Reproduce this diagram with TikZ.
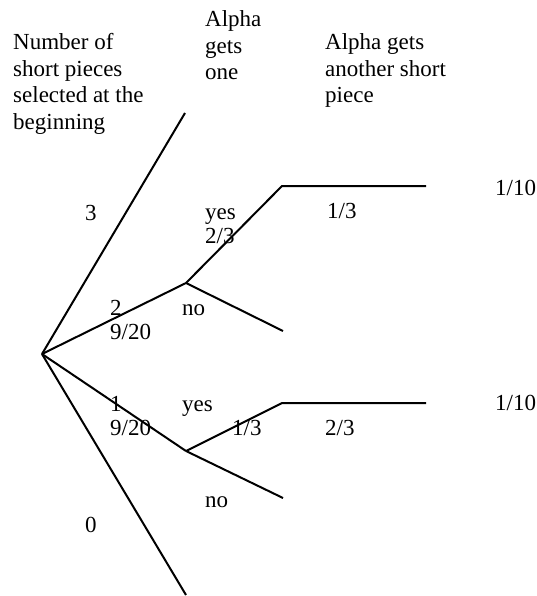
\documentclass[tikz,border=0pt]{standalone}
\usepackage{fontspec}
\setmainfont{Liberation Serif}
\begin{document}
\begin{tikzpicture}[x=1pt,y=-1pt,
  branch/.style={line width=2pt},
  lbl/.style={anchor=base west, inner sep=0pt, align=left, font=\fontsize{23}{24}\selectfont},
  head/.style={anchor=base west, inner sep=0pt, align=left, font=\fontsize{23}{26.5}\selectfont}]
\useasboundingbox (0,0) rectangle (537,596);
% tree points
\coordinate (root) at (42,354);
\coordinate (n3) at (185,113);
\coordinate (n2) at (186,283);
\coordinate (n1) at (186,451);
\coordinate (n0) at (186,595);
\coordinate (n2y) at (282,186);
\coordinate (n2yh) at (426,186);
\coordinate (n2n) at (283,331);
\coordinate (n1y) at (282,403);
\coordinate (n1yh) at (426,403);
\coordinate (n1n) at (283,498);
% branches
\draw[branch] (root) -- (n3);
\draw[branch] (root) -- (n2);
\draw[branch] (root) -- (n1);
\draw[branch] (root) -- (n0);
\draw[branch] (n2) -- (n2y) -- (n2yh);
\draw[branch] (n2) -- (n2n);
\draw[branch] (n1) -- (n1y) -- (n1yh);
\draw[branch] (n1) -- (n1n);
% headers (anchored at the baseline of their last line)
\node[head] (h1) at (13,129.5) {Number of\\short pieces\\selected at the\\beginning};
\node[head] (h2) at (205,80) {Alpha\\gets\\one};
\node[head] (h3) at (325,103) {Alpha gets\\another short\\piece};
% labels
\node[lbl] (l3) at (85,220) {3};
\node[lbl] (l2) at (110,339) {2\\9/20};
\node[lbl] (l1) at (110,435) {1\\9/20};
\node[lbl] (l0) at (85,532) {0};
\node[lbl] (y2) at (205,243) {yes\\2/3};
\node[lbl] (no2) at (182,315) {no};
\node[lbl] (y1) at (182,411) {yes};
\node[lbl] (p1) at (232,435) {1/3};
\node[lbl] (no1) at (205,507) {no};
\node[lbl] (pa) at (327,218) {1/3};
\node[lbl] (pb) at (325,435) {2/3};
\node[lbl] (ra) at (495,195) {1/10};
\node[lbl] (rb) at (495,410) {1/10};
\end{tikzpicture}
\end{document}
